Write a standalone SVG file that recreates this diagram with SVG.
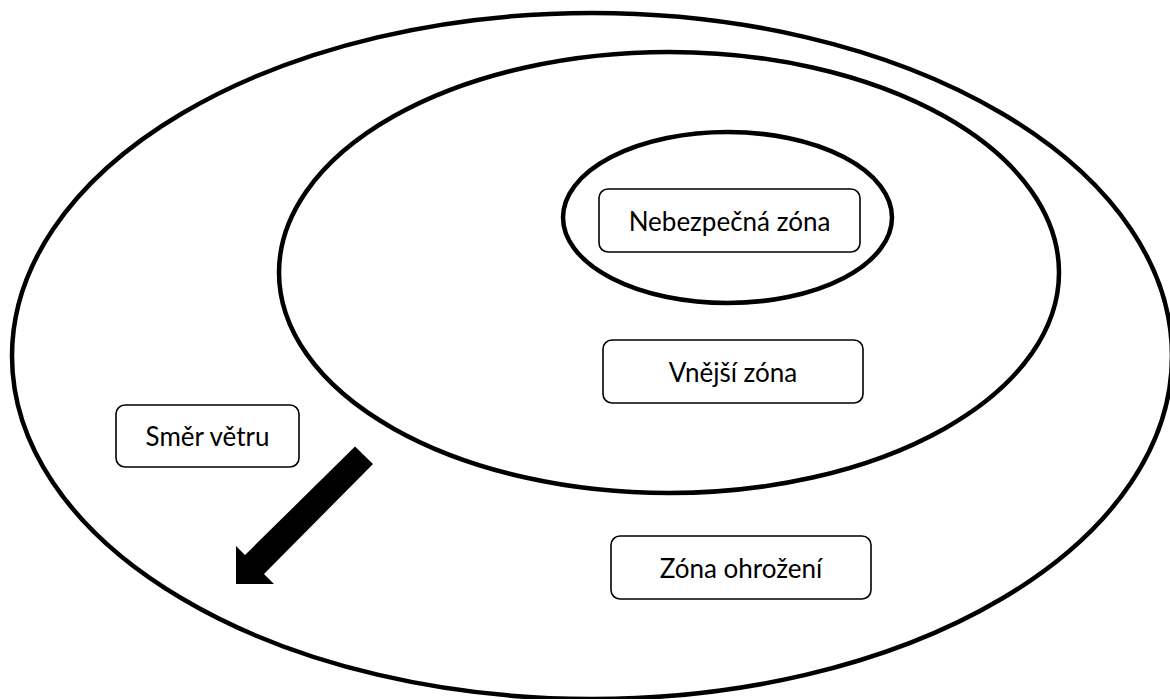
<svg xmlns="http://www.w3.org/2000/svg" width="1170" height="699" viewBox="0 0 1170 699">
  <style>
    .zone { fill: none; stroke: #000; stroke-width: 4.5; }
    .label-box { fill: #fff; stroke: #000; stroke-width: 1.6; }
    .label { font-family: Lato, "Liberation Sans", sans-serif; font-size: 26px; fill: #000; text-anchor: middle; dominant-baseline: central; }
  </style>
  <rect width="1170" height="699" fill="#fff"/>

  <!-- zone boundaries -->
  <g id="zona-ohrozeni-boundary">
    <ellipse class="zone" cx="592" cy="356" rx="580" ry="343"/>
  </g>
  <g id="vnejsi-zona-boundary">
    <ellipse class="zone" cx="669" cy="272.5" rx="390" ry="220.5"/>
  </g>
  <g id="nebezpecna-zona-boundary">
    <ellipse class="zone" cx="727.5" cy="217.5" rx="164.5" ry="85.5"/>
  </g>

  <!-- labels -->
  <g id="nebezpecna-zona">
    <rect class="label-box" x="599" y="189" width="261" height="63" rx="9"/>
    <text class="label" x="729.5" y="220.5">Nebezpečná zóna</text>
  </g>
  <g id="vnejsi-zona">
    <rect class="label-box" x="603" y="340" width="260" height="63" rx="9"/>
    <text class="label" x="733" y="371.5">Vnější zóna</text>
  </g>
  <g id="zona-ohrozeni">
    <rect class="label-box" x="611" y="536" width="260" height="63" rx="9"/>
    <text class="label" x="741" y="567.5">Zóna ohrožení</text>
  </g>
  <g id="smer-vetru">
    <rect class="label-box" x="116" y="405" width="183" height="62" rx="9"/>
    <text class="label" x="207.5" y="436">Směr větru</text>
  </g>

  <!-- wind direction arrow -->
  <g id="connectors">
    <polygon fill="#000" points="355,446.5 373,464 264,574 274,584 236,584 236,546 245,555"/>
  </g>
</svg>
